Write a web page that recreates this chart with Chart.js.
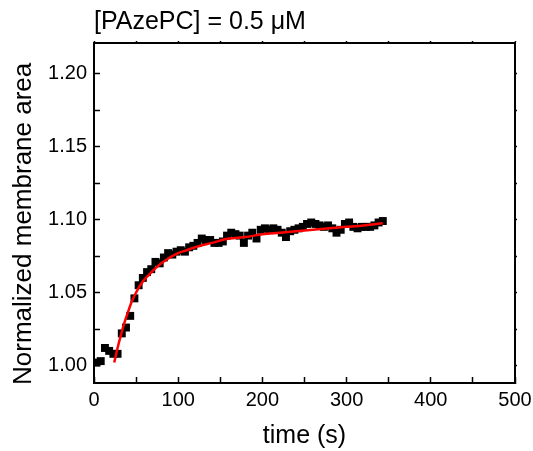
<!DOCTYPE html>
<html>
<head>
<meta charset="utf-8">
<script src="https://cdn.jsdelivr.net/npm/chart.js@4"></script>
<style>
  html, body { margin: 0; padding: 0; background: #ffffff; }
  #wrap { width: 533px; height: 451px; }
</style>
</head>
<body>
<div id="wrap"><canvas id="c" width="533" height="451"></canvas></div>
<script>
// Measured data (time in s, normalized membrane area)
const timeData = [3,8,13,18,23,28,33,38,43,48,53,58,63,68,73,78,83,88,93,98,103,108,113,118,123,128,133,138,143,148,153,158,163,168,173,178,183,188,193,198,203,208,213,218,223,228,233,238,243,248,253,258,263,268,273,278,283,288,293,298,303,308,313,318,323,328,333,338,343];
const areaData = [1.002,1.003,1.012,1.010,1.008,1.008,1.022,1.026,1.034,1.046,1.055,1.060,1.064,1.066,1.071,1.070,1.074,1.077,1.076,1.078,1.079,1.078,1.081,1.082,1.084,1.087,1.086,1.086,1.084,1.084,1.085,1.089,1.091,1.090,1.089,1.084,1.089,1.091,1.087,1.093,1.094,1.093,1.094,1.093,1.091,1.088,1.092,1.093,1.094,1.095,1.097,1.098,1.097,1.096,1.095,1.096,1.094,1.091,1.093,1.097,1.098,1.095,1.094,1.095,1.095,1.095,1.096,1.098,1.099];
// Fit curve
const fitTime = [24,28,32,36,40,45,50,55,60,65,70,80,90,100,110,120,140,160,180,200,220,240,260,280,300,320,343];
const fitArea = [1.002,1.012,1.021,1.029,1.036,1.044,1.050,1.055,1.059,1.062,1.065,1.070,1.074,1.077,1.079,1.081,1.084,1.087,1.088,1.090,1.091,1.092,1.093,1.094,1.095,1.096,1.0975];
// Axis settings
const xTickValues = [0,50,100,150,200,250,300,350,400,450,500];
const xLabelValues = [0,100,200,300,400,500];
const yTickValues = [1.000,1.025,1.050,1.075,1.100,1.125,1.150,1.175,1.200];
const yLabelValues = [1.00,1.05,1.10,1.15,1.20];
const titleText = '[PAzePC] = 0.5 \u03BCM';
const xTitle = 'time (s)';
const yTitle = 'Normalized membrane area   ';

const points = timeData.map((t, i) => ({x: t, y: areaData[i]}));
const fitPoints = fitTime.map((t, i) => ({x: t, y: fitArea[i]}));
const FONT = "'Liberation Sans', Arial, sans-serif";

function setTicks(values) {
  return function(scale) { scale.ticks = values.map(v => ({value: v})); };
}
function isLabel(list, v) { return list.some(l => Math.abs(l - v) < 1e-6); }
function noPad(s) { s.paddingLeft = 0; s.paddingRight = 0; s.paddingTop = 0; s.paddingBottom = 0; }

const border = { display: true, color: '#000', width: 2 };
const gridIn = { drawOnChartArea: false, drawTicks: true, tickLength: -6, tickColor: '#000', tickWidth: 1.5 };
const gridOut = { drawOnChartArea: false, drawTicks: true, tickLength: 2, tickColor: '#000', tickWidth: 1.5 };

new Chart(document.getElementById('c'), {
  type: 'scatter',
  data: {
    datasets: [
      {
        data: fitPoints,
        showLine: true,
        borderColor: '#ff0000',
        borderWidth: 2.5,
        pointRadius: 0,
        tension: 0.4,
        cubicInterpolationMode: 'monotone',
        fill: false
      },
      {
        data: points,
        pointStyle: 'rect',
        pointRadius: 5.6,
        pointBackgroundColor: '#000',
        pointBorderWidth: 0,
        showLine: false
      }
    ]
  },
  options: {
    responsive: false,
    animation: false,
    devicePixelRatio: 1,
    layout: { padding: { left: 0, right: 0, top: 0, bottom: 0 } },
    plugins: {
      legend: { display: false },
      tooltip: { enabled: false },
      title: {
        display: true,
        text: titleText,
        align: 'start',
        fullSize: false,
        color: '#000',
        font: { family: FONT, size: 25, weight: 'normal', lineHeight: 1.2 },
        padding: { top: 7, bottom: 6 }
      }
    },
    scales: {
      x: {
        type: 'linear', position: 'bottom', min: 0, max: 500,
        afterBuildTicks: setTicks(xTickValues),
        afterFit: s => { s.height = 68; noPad(s); },
        border: border, grid: gridIn,
        ticks: {
          color: '#000', padding: 11, maxRotation: 0, autoSkip: false,
          font: { family: FONT, size: 20 },
          callback: v => isLabel(xLabelValues, v) ? String(v) : ''
        },
        title: { display: true, text: xTitle, color: '#000', font: { family: FONT, size: 25 }, padding: { top: 0, bottom: 0 } }
      },
      y: {
        type: 'linear', position: 'left', min: 0.988, max: 1.221,
        afterBuildTicks: setTicks(yTickValues),
        afterFit: s => { s.width = 94; noPad(s); },
        border: border, grid: gridIn,
        ticks: {
          color: '#000', padding: 13, autoSkip: false,
          font: { family: FONT, size: 20 },
          callback: v => isLabel(yLabelValues, v) ? v.toFixed(2) : ''
        },
        title: { display: true, text: yTitle, color: '#000', font: { family: FONT, size: 26 }, padding: { top: 8, bottom: 0 } }
      },
      x2: {
        type: 'linear', position: 'top', min: 0, max: 500,
        afterBuildTicks: setTicks(xTickValues),
        afterFit: s => { s.height = 0; noPad(s); },
        border: border, grid: gridOut,
        ticks: { display: false }
      },
      y2: {
        type: 'linear', position: 'right', min: 0.988, max: 1.221,
        afterBuildTicks: setTicks(yTickValues),
        afterFit: s => { s.width = 18; noPad(s); },
        border: border, grid: gridOut,
        ticks: { display: false }
      }
    }
  }
});
</script>
</body>
</html>
